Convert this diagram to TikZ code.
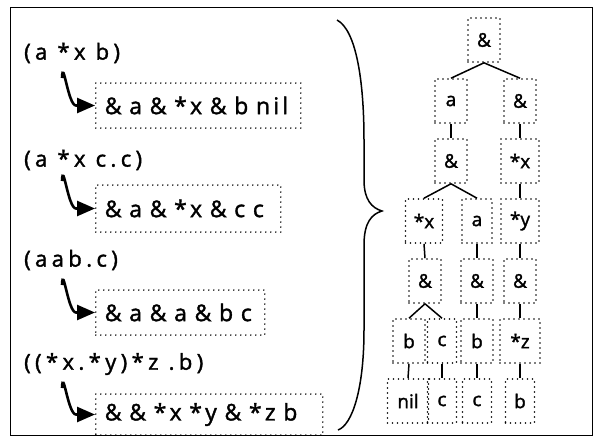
\documentclass[tikz,border=0pt]{standalone}
\usepackage{fontspec}
\setmainfont{Open Sans}[FakeBold=1.6]
\usetikzlibrary{arrows.meta}
\begin{document}
\begin{tikzpicture}[x=1pt,y=-1pt,
  dotbox/.style={draw, line width=1.6pt, dash pattern=on 0pt off 5pt, line cap=round, inner sep=0pt},
  tnode/.style={dotbox, minimum width=32pt, minimum height=44pt, font=\fontsize{19}{19}\selectfont},
  lbox/.style={dotbox, anchor=west, inner xsep=0pt, align=left, font=\fontsize{23}{23}\selectfont\addfontfeature{LetterSpace=14}},
  expr/.style={anchor=west, inner sep=0pt, font=\fontsize{22}{22}\selectfont\addfontfeature{LetterSpace=20}},
  hook/.style={line width=2.6pt, -{Triangle[length=18pt,width=15pt]}},
  edge/.style={line width=1.5pt}]
\useasboundingbox (0,0) rectangle (600,437);
\draw[line width=1pt] (10,7) rectangle (592,435);
% left expressions
\node[expr] (e1) at (24,53) {(a *x b)};
\node[expr] (e2) at (24,160) {(a *x c.c)};
\node[expr] (e3) at (24,260) {(aab.c)};
\node[expr] (e4) at (24,364) {((*x.*y)*z .b)};
\node[lbox, text width=205pt, minimum height=45pt] (b1) at (95,105.5) {\hspace*{9pt}\& a \& *x \& b nil};
\node[lbox, text width=185pt, minimum height=47pt] (b2) at (95,208.5) {\hspace*{9pt}\& a \& *x \& c c};
\node[lbox, text width=169pt, minimum height=45pt] (b3) at (95,312.5) {\hspace*{9pt}\& a \& a \& b c};
\node[lbox, text width=227pt, minimum height=41pt] (b4) at (95,414.5) {\hspace*{9pt}\& \& *x *y \& *z b};
\coordinate (s1) at (62,78);
\coordinate (s2) at (62,181);
\coordinate (s3) at (62,285);
\coordinate (s4) at (62,388);
\foreach \i in {1,2,3,4}{
  \draw[hook] (s\i) .. controls ([xshift=1pt,yshift=22pt]s\i) and ([xshift=-27pt]b\i.west) .. ([xshift=-19pt]b\i.west) -- (b\i.west);
}
% brace
\draw[line width=1.5pt] (337,20) .. controls (356,30) and (364,80) .. (364,140)
  -- (364,180) .. controls (364,200) and (372,208) .. (382,211)
  .. controls (372,214) and (364,222) .. (364,245)
  -- (364,330) .. controls (364,390) and (352,425) .. (338,430);
% tree
\node[tnode] (r) at (484,40) {\&};
\node[tnode] (n1) at (451,101) {a};
\node[tnode] (n2) at (520,101) {\&};
\node[tnode] (n3) at (451,161) {\&};
\node[tnode, minimum width=38pt] (n4) at (520,161) {*x};
\node[tnode, minimum width=37pt] (n5) at (424,221) {*x};
\node[tnode, minimum width=30pt] (n6) at (477,221) {a};
\node[tnode, minimum width=38pt] (n7) at (520,221) {*y};
\node[tnode] (n8) at (425,281) {\&};
\node[tnode] (n9) at (477,281) {\&};
\node[tnode] (n10) at (520,281) {\&};
\node[tnode] (n11) at (409,341) {b};
\node[tnode, minimum width=29pt] (n12) at (442,341) {c};
\node[tnode] (n13) at (477,341) {b};
\node[tnode, minimum width=40pt] (n14) at (520,341) {*z};
\node[tnode, minimum width=41pt] (n15) at (408,401) {nil};
\node[tnode, minimum width=29pt] (n16) at (442,401) {c};
\node[tnode, minimum width=29pt] (n17) at (477,401) {c};
\node[tnode, minimum width=29pt] (n18) at (520,401) {b};
\foreach \a/\b in {r/n1,r/n2,n1/n3,n2/n4,n3/n5,n3/n6,n4/n7,n5/n8,n6/n9,n7/n10,n8/n11,n8/n12,n9/n13,n10/n14,n11/n15,n12/n16,n13/n17,n14/n18}
  \draw[edge] (\a.south) -- (\b.north);
\end{tikzpicture}
\end{document}
